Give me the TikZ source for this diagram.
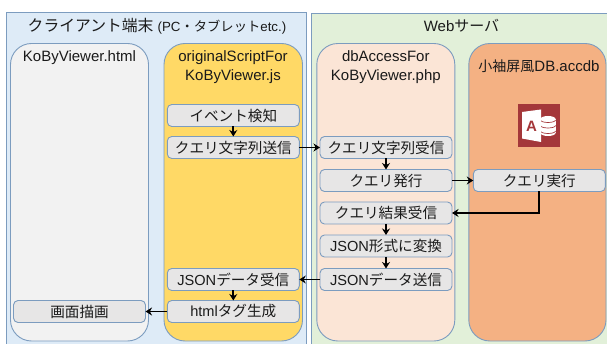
\documentclass[tikz,border=0pt]{standalone}
\usepackage{fontspec}
\setmainfont{Liberation Sans}
\newfontfamily\jpf{Noto Sans CJK JP}
\newcommand{\jp}[1]{{\jpf #1}}
\usetikzlibrary{arrows.meta,calc}
\definecolor{edgeblue}{HTML}{7C9CBF}
\definecolor{clientbg}{HTML}{DEEBF7}
\definecolor{webbg}{HTML}{E2F0D9}
\definecolor{htmlbg}{HTML}{F2F2F2}
\definecolor{jsbg}{HTML}{FFD966}
\definecolor{phpbg}{HTML}{FBE5D6}
\definecolor{dbbg}{HTML}{F4B183}
\definecolor{stepbg}{HTML}{E7E6E6}
\definecolor{accred}{HTML}{A4373A}
\definecolor{txt}{HTML}{1A1A1A}
\tikzset{
  x=1pt,y=-1pt,
  outer/.style={draw=edgeblue,line width=0.9pt,inner sep=0pt,outer sep=0pt},
  lane/.style={draw=edgeblue,line width=0.9pt,rounded corners=21pt,inner sep=0pt,outer sep=0pt},
  stepbox/.style={draw=edgeblue,line width=0.9pt,fill=stepbg,rounded corners=4.5pt,minimum width=132pt,minimum height=22pt,inner sep=0pt,outer sep=0pt,font=\fontsize{14.6}{17}\selectfont,text=txt},
  lbl/.style={font=\fontsize{15}{18.5}\selectfont,align=center,inner sep=0pt,text=txt},
  flow/.style={draw=black,line width=1.9pt,-{Stealth[length=6.5pt,width=8pt]}},
}
\begin{document}
\begin{tikzpicture}
\useasboundingbox (0,0) rectangle (607,344);
\clip (0,0) rectangle (607,344);
\draw[outer,fill=clientbg] (6.5,12.5) rectangle (306,365);
\draw[outer,fill=webbg] (311.5,13) rectangle (625,365);
\draw[lane,fill=htmlbg] (10.5,43.5) rectangle (148.5,341);
\draw[lane,fill=jsbg] (164,43.5) rectangle (302.5,341);
\draw[lane,fill=phpbg] (316.8,43.5) rectangle (454.8,341);
\draw[lane,fill=dbbg] (468.8,43.5) rectangle (606,341);
\node[lbl] (clienttitle) at (157,26) {\jp{\fontsize{15.8}{16}\selectfont クライアント端末} {\fontsize{13.3}{14}\selectfont (PC\jp{・タブレット}etc.)}};
\node[lbl] (webtitle) at (461.5,26) {Web\jp{サーバ}};
\node[lbl] (htmltitle) at (79.5,58) {KoByViewer.html};
\node[lbl] (jstitle) at (233,67) {originalScriptFor\\KoByViewer.js};
\node[lbl] (phptitle) at (385.8,67) {dbAccessFor\\KoByViewer.php};
\node[lbl] (dbtitle) at (539,66) {\jp{\fontsize{14}{16}\selectfont 小袖屏風}DB.accdb};
% Access icon
\fill[accred] (517.7,104) rectangle (560,147.5);
\fill[white] (548,119) ellipse (7.5pt and 3pt);
\fill[white] (540.5,119) rectangle (555.5,133);
\fill[white] (548,133) ellipse (7.5pt and 3pt);
\draw[accred,line width=0.7pt] (540.5,120) arc[start angle=180,end angle=360,x radius=7.5pt,y radius=2.5pt];
\draw[accred,line width=0.7pt] (540.5,125.5) arc[start angle=180,end angle=360,x radius=7.5pt,y radius=2.5pt];
\draw[accred,line width=0.7pt] (540.5,131) arc[start angle=180,end angle=360,x radius=7.5pt,y radius=2.5pt];
\fill[white] (522,112) -- (541,109.5) -- (541,142) -- (522,138.5) -- cycle;
\node[font=\bfseries\fontsize{15}{15}\selectfont,text=accred,inner sep=0pt] (acclogo) at (531.5,126) {A};
% Steps
\node[stepbox] (event) at (233.3,115.5) {\jp{イベント検知}};
\node[stepbox] (send) at (233.3,147.5) {\jp{クエリ文字列送信}};
\node[stepbox] (jsonrecv) at (233.3,279.5) {JSON\jp{データ受信}};
\node[stepbox] (htmlgen) at (233.3,311.5) {html\jp{タグ生成}};
\node[stepbox] (render) at (79.5,311.5) {\jp{画面描画}};
\node[stepbox] (recv) at (386,147.5) {\jp{クエリ文字列受信}};
\node[stepbox] (issue) at (386,180.5) {\jp{クエリ発行}};
\node[stepbox] (result) at (386,213) {\jp{クエリ結果受信}};
\node[stepbox] (conv) at (386,246) {JSON\jp{形式に変換}};
\node[stepbox] (jsonsend) at (386,279.5) {JSON\jp{データ送信}};
\node[stepbox] (exec) at (539.3,180.5) {\jp{クエリ実行}};
% Connectors
\draw[flow] (event) -- (send);
\draw[flow] (send) -- (recv);
\draw[flow] (recv) -- (issue);
\draw[flow] (issue) -- (exec);
\draw[flow] (exec.south) |- (result.east);
\draw[flow] (result) -- (conv);
\draw[flow] (conv) -- (jsonsend);
\draw[flow] (jsonsend) -- (jsonrecv);
\draw[flow] (jsonrecv) -- (htmlgen);
\draw[flow] (htmlgen) -- (render);
\end{tikzpicture}
\end{document}
